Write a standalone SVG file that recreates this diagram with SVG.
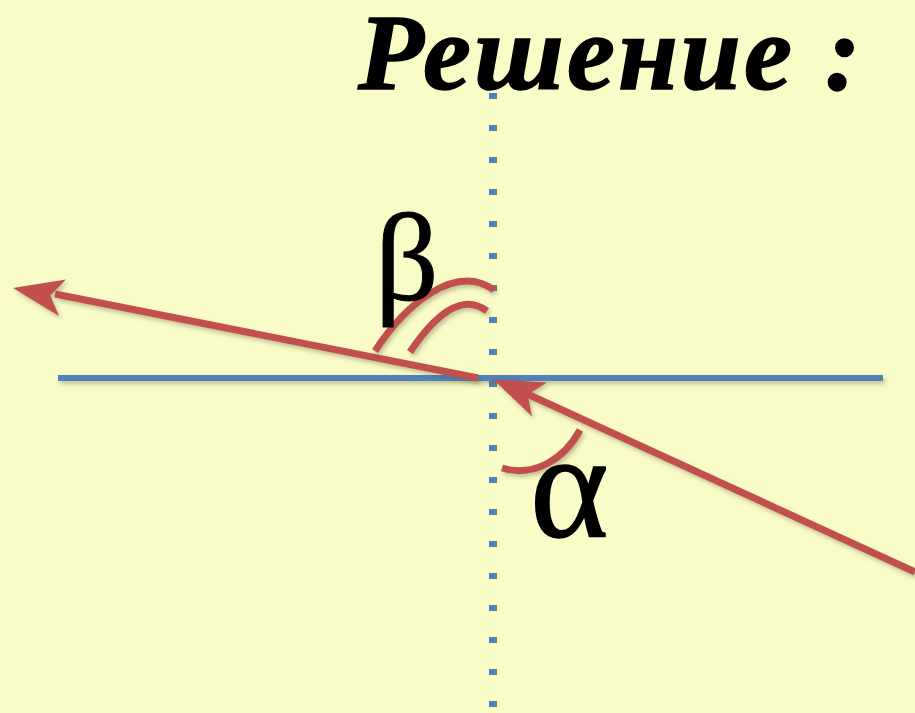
<svg xmlns="http://www.w3.org/2000/svg" width="915" height="713" viewBox="0 0 915 713">
<defs>
<filter id="sh" filterUnits="userSpaceOnUse" x="0" y="0" width="915" height="713">
<feDropShadow dx="2" dy="3" stdDeviation="2" flood-color="#5a5a2a" flood-opacity="0.35"/>
</filter>
</defs>
<style>
.red{stroke:#C0504D;stroke-width:7;fill:none;stroke-linecap:butt}
.arc{stroke:#C0504D;stroke-width:7;fill:none}
.head{fill:#C0504D}
.blue{stroke:#4F81BD;stroke-width:6;fill:none}
.dots{stroke:#4F81BD;stroke-width:8;fill:none;stroke-dasharray:6 26}
.greek{font-family:"Liberation Serif","Times New Roman",serif;fill:#000}
</style>
<rect width="915" height="713" fill="#FAFCC8"/>
<g id="title"><text x="358" y="89" font-family="Liberation Serif, serif" font-weight="bold" font-style="italic" font-size="108" letter-spacing="3" fill="#000" stroke="#000" stroke-width="1.5">Решение :</text></g>
<g id="normal"><line class="dots" x1="493" y1="93" x2="493" y2="713"/></g>
<g id="surface" filter="url(#sh)"><line class="blue" x1="58" y1="378" x2="883" y2="378"/></g>
<g id="connectors" filter="url(#sh)">
<g id="reflected"><line class="red" x1="478" y1="378" x2="55" y2="294"/><polygon class="head" points="13,288 66,279.5 50.3,295.4 59,316"/></g>
<g id="incident"><line class="red" x1="915" y1="572" x2="523" y2="392"/><polygon class="head" points="493,379 547,382.5 527.7,394.6 532,416.5"/></g>
</g>
<g id="angle-beta" filter="url(#sh)">
<path class="arc" d="M375,351 C405,305 455,262 494,290"/>
<path class="arc" d="M410,352 C435,315 462,292 487,311"/>
</g>
<g id="angle-alpha" filter="url(#sh)"><path class="arc" d="M580,430 C565,458 535,478 502,468"/></g>
<g id="label-beta"><text class="greek" x="375" y="300" font-size="125" stroke="#000" stroke-width="1">β</text></g>
<g id="label-alpha"><text class="greek" x="530" y="537" font-size="150" stroke="#000" stroke-width="1.5">α</text></g>
</svg>
